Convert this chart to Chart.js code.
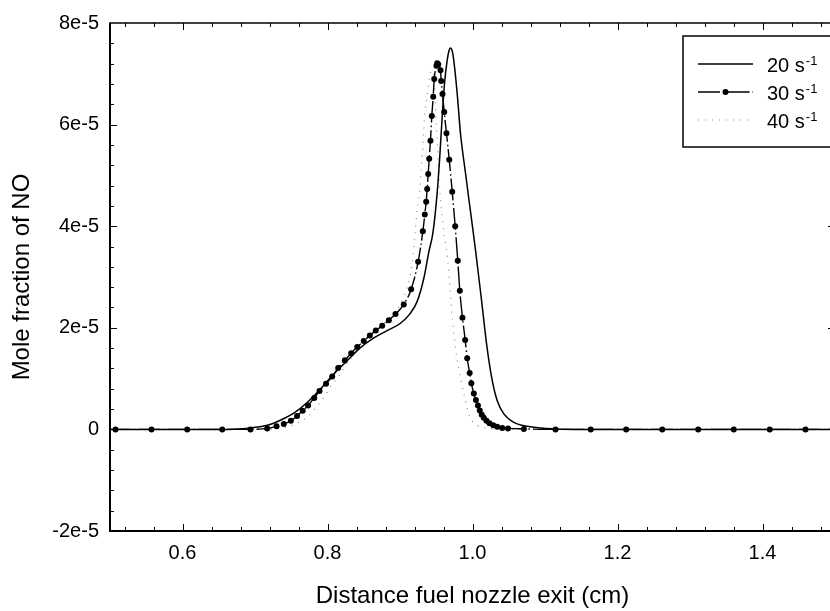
<!DOCTYPE html>
<html>
<head>
<meta charset="utf-8">
<title>Mole fraction of NO</title>
<script src="https://cdn.jsdelivr.net/npm/chart.js@4.4.1/dist/chart.umd.min.js"></script>
<style>
  html, body { margin: 0; padding: 0; overflow: hidden; background: #fff; }
  canvas { display: block; }
</style>
</head>
<body>
<canvas id="noChart" width="850" height="611"></canvas>
<script>
// strain rates (s-1) of the three flames
const strainRates = [20, 30, 40];

// distance from fuel nozzle exit (cm) / mole fraction of NO (in units of 1e-5)
const x20 = [0.50, 0.55, 0.60, 0.65, 0.67, 0.694, 0.717, 0.735, 0.7535, 0.772, 0.790, 0.8087, 0.827, 0.8455,
  0.864, 0.8823, 0.9007, 0.9145, 0.9237, 0.9328, 0.9397, 0.9455, 0.9513, 0.9549, 0.9582, 0.9614, 0.965,
  0.9675, 0.9697, 0.972, 0.9742, 0.9789, 0.9834, 0.9903, 0.995, 1.001, 1.0045, 1.0124, 1.020, 1.027,
  1.034, 1.043, 1.057, 1.0755, 1.103, 1.14, 1.20, 1.30, 1.40, 1.50];
const y20 = [0, 0, 0, 0, 0.005, 0.03, 0.08, 0.18, 0.32, 0.53, 0.79, 1.09, 1.35, 1.61,
  1.80, 1.945, 2.09, 2.29, 2.52, 2.97, 3.49, 3.88, 4.66, 5.38, 6.16, 6.81, 7.26,
  7.45, 7.51, 7.45, 7.26, 6.61, 5.83, 5.05, 4.53, 3.88, 3.49, 2.55, 1.62, 0.98,
  0.57, 0.31, 0.14, 0.06, 0.02, 0, 0, 0, 0, 0];

const x30 = [0.458, 0.5076, 0.5572, 0.6065, 0.6548, 0.6938, 0.7168, 0.7297, 0.7397, 0.7495, 0.758, 0.7658,
  0.7732, 0.7817, 0.789, 0.798, 0.8065, 0.8147, 0.824, 0.8327, 0.841, 0.850, 0.8584, 0.8666, 0.8754,
  0.8846, 0.8938, 0.9052, 0.9154, 0.925, 0.9315, 0.9342, 0.9361, 0.9375, 0.9389, 0.9403, 0.942, 0.9439,
  0.9458, 0.9472, 0.9503, 0.9513, 0.9527, 0.9559, 0.9568, 0.9586, 0.961, 0.9641, 0.9679, 0.972, 0.9761,
  0.9797, 0.9825, 0.9862, 0.9899, 0.9927, 0.9961, 0.9984, 1.0018, 1.0047, 1.0075, 1.010, 1.0128, 1.0156,
  1.0193, 1.0234, 1.0286, 1.034, 1.041, 1.049, 1.0708, 1.1145, 1.163, 1.212, 1.2617, 1.3113, 1.3604,
  1.410, 1.4593, 1.508];
const y30 = [0, 0, 0, 0, 0, 0, 0.02, 0.06, 0.105, 0.17, 0.265, 0.365,
  0.47, 0.62, 0.755, 0.90, 1.04, 1.21, 1.36, 1.50, 1.62, 1.74, 1.85, 1.945, 2.04,
  2.15, 2.27, 2.46, 2.76, 3.30, 3.90, 4.23, 4.48, 4.73, 5.03, 5.33, 5.68, 6.17,
  6.55, 6.90, 7.16, 7.21, 7.19, 7.07, 6.86, 6.60, 6.25, 5.83, 5.31, 4.68, 4.00,
  3.32, 2.73, 2.20, 1.76, 1.40, 1.11, 0.91, 0.705, 0.58, 0.47, 0.37, 0.29, 0.23,
  0.17, 0.12, 0.08, 0.05, 0.03, 0.02, 0.01, 0, 0, 0, 0, 0, 0,
  0, 0, 0];

const x40 = [0.50, 0.55, 0.60, 0.65, 0.70, 0.72, 0.735, 0.7444, 0.758, 0.772, 0.7834, 0.794, 0.804, 0.8156,
  0.828, 0.840, 0.852, 0.864, 0.876, 0.888, 0.898, 0.906, 0.912, 0.917, 0.921, 0.9237, 0.9273, 0.9292,
  0.9315, 0.9328, 0.9338, 0.9375, 0.940, 0.943, 0.9455, 0.948, 0.950, 0.953, 0.956, 0.9595, 0.9625,
  0.9655, 0.968, 0.970, 0.9725, 0.975, 0.9785, 0.982, 0.9855, 0.989, 0.9925, 0.996, 1.001, 1.008,
  1.015, 1.025, 1.04, 1.06, 1.10, 1.20, 1.30, 1.40, 1.50];
const y40 = [0, 0, 0, 0, 0, 0.005, 0.02, 0.045, 0.12, 0.24, 0.42, 0.60, 0.84, 1.05,
  1.32, 1.54, 1.74, 1.91, 2.06, 2.22, 2.40, 2.62, 2.90, 3.30, 3.90, 4.33, 4.73, 5.13,
  5.52, 5.93, 6.14, 6.57, 6.85, 7.05, 7.05, 6.70, 6.00, 5.20, 4.50, 4.00, 3.70,
  3.40, 2.95, 2.55, 2.15, 1.80, 1.40, 1.13, 0.88, 0.64, 0.42, 0.26, 0.14, 0.07,
  0.04, 0.015, 0.005, 0, 0, 0, 0, 0, 0];

// axis ticks
const xTickValues = [0.6, 0.8, 1.0, 1.2, 1.4];
const xTickLabels = ['0.6', '0.8', '1.0', '1.2', '1.4'];
const yTickValues = [-2, 0, 2, 4, 6, 8];
const yTickLabels = ['-2e-5', '0', '2e-5', '4e-5', '6e-5', '8e-5'];

const FONT = '"Liberation Sans", Arial, Helvetica, sans-serif';

function toPoints(xs, ys) {
    return xs.map((x, i) => ({ x: x, y: ys[i] }));
}

// frame with inward major/minor ticks on all four sides
const frameTicks = {
    id: 'frameTicks',
    afterDatasetsDraw(chart) {
        const { ctx, chartArea: a, scales: { x, y } } = chart;
        ctx.save();
        ctx.strokeStyle = '#000';
        ctx.lineWidth = 1;
        ctx.beginPath();
        for (let i = 13; i <= 37; i++) {
            const px = Math.round(x.getPixelForValue(i * 0.04)) + 0.5;
            const len = i % 5 === 0 ? 7 : 4;
            ctx.moveTo(px, a.bottom); ctx.lineTo(px, a.bottom - len);
            ctx.moveTo(px, a.top); ctx.lineTo(px, a.top + len);
        }
        for (let i = -4; i <= 19; i++) {
            const py = Math.round(y.getPixelForValue(i * 0.4)) + 0.5;
            const len = i % 5 === 0 ? 7 : 4;
            ctx.moveTo(a.left, py); ctx.lineTo(a.left + len, py);
            ctx.moveTo(a.right, py); ctx.lineTo(a.right - len, py);
        }
        ctx.stroke();

        ctx.lineWidth = 1.5;
        ctx.strokeRect(a.left, a.top, a.right - a.left, a.bottom - a.top);
        ctx.lineWidth = 2;
        ctx.beginPath();
        ctx.moveTo(a.left, a.top); ctx.lineTo(a.left, a.bottom); ctx.lineTo(a.right, a.bottom);
        ctx.stroke();
        ctx.restore();
    }
};

// boxed legend in the upper right corner, labels with superscript -1
const boxLegend = {
    id: 'boxLegend',
    afterDraw(chart) {
        const { ctx, chartArea: a } = chart;
        const bx = a.right - 152, by = a.top + 13, bh = 111;
        ctx.save();
        ctx.fillStyle = '#fff';
        ctx.fillRect(bx, by, a.right - bx, bh);
        ctx.lineWidth = 1.5;
        ctx.strokeStyle = '#000';
        ctx.strokeRect(bx, by, a.right - bx, bh);

        chart.data.datasets.forEach((ds, i) => {
            const rowY = by + 28 + i * 28;
            const x0 = bx + 15, x1 = bx + 70;
            ctx.save();
            ctx.strokeStyle = ds.borderColor;
            ctx.lineWidth = ds.borderWidth;
            ctx.setLineDash(ds.borderDash || []);
            ctx.beginPath();
            ctx.moveTo(x0, rowY); ctx.lineTo(x1, rowY);
            ctx.stroke();
            if (ds.pointRadius > 0) {
                ctx.fillStyle = ds.pointBackgroundColor;
                ctx.beginPath();
                ctx.arc((x0 + x1) / 2, rowY, ds.pointRadius, 0, 2 * Math.PI);
                ctx.fill();
            }
            ctx.restore();

            ctx.fillStyle = '#000';
            ctx.textAlign = 'left';
            ctx.textBaseline = 'alphabetic';
            ctx.font = '20px ' + FONT;
            const base = strainRates[i] + ' s';
            ctx.fillText(base, bx + 84, rowY + 8);
            const w = ctx.measureText(base).width;
            ctx.font = '13px ' + FONT;
            ctx.fillText('-1', bx + 84 + w + 1, rowY + 0.7);
        });
        ctx.restore();
    }
};

const ctx = document.getElementById('noChart').getContext('2d');

new Chart(ctx, {
    type: 'line',
    data: {
        datasets: [
            {
                label: strainRates[0] + ' s⁻¹',
                data: toPoints(x20, y20),
                borderColor: '#000',
                borderWidth: 1.5,
                pointRadius: 0,
                cubicInterpolationMode: 'monotone'
            },
            {
                label: strainRates[1] + ' s⁻¹',
                data: toPoints(x30, y30),
                borderColor: '#000',
                borderWidth: 1.4,
                borderDash: [22, 3, 1.5, 3],
                pointRadius: 3,
                pointBackgroundColor: '#000',
                pointBorderWidth: 0,
                cubicInterpolationMode: 'monotone'
            },
            {
                label: strainRates[2] + ' s⁻¹',
                data: toPoints(x40, y40),
                borderColor: '#8c8c8c',
                borderWidth: 1.2,
                borderDash: [1, 6],
                pointRadius: 0,
                cubicInterpolationMode: 'monotone'
            }
        ]
    },
    options: {
        responsive: false,
        animation: false,
        devicePixelRatio: 1,
        layout: { padding: { top: 20, right: 15, left: 0, bottom: 0 } },
        plugins: {
            legend: { display: false },
            tooltip: { enabled: false }
        },
        scales: {
            x: {
                type: 'linear',
                min: 0.5,
                max: 1.5,
                grid: { display: false, drawTicks: false },
                border: { display: false },
                afterBuildTicks: scale => { scale.ticks = xTickValues.map(v => ({ value: v })); },
                afterFit: scale => { scale.height = 80; },
                ticks: {
                    padding: 10,
                    maxRotation: 0,
                    autoSkip: false,
                    color: '#000',
                    font: { family: FONT, size: 20 },
                    callback: (value, index) => xTickLabels[index]
                },
                title: {
                    display: true,
                    text: 'Distance fuel nozzle exit (cm)',
                    color: '#000',
                    font: { family: FONT, size: 24 },
                    padding: { top: 0, bottom: 0 }
                }
            },
            y: {
                type: 'linear',
                min: -2,
                max: 8,
                grid: { display: false, drawTicks: false },
                border: { display: false },
                afterBuildTicks: scale => { scale.ticks = yTickValues.map(v => ({ value: v })); },
                afterFit: scale => { scale.width = 110; },
                ticks: {
                    padding: 11,
                    autoSkip: false,
                    color: '#000',
                    font: { family: FONT, size: 20 },
                    callback: (value, index) => yTickLabels[index]
                },
                title: {
                    display: true,
                    text: 'Mole fraction of NO',
                    color: '#000',
                    font: { family: FONT, size: 24 },
                    padding: { top: 8, bottom: 0 }
                }
            }
        }
    },
    plugins: [frameTicks, boxLegend]
});
</script>
</body>
</html>
